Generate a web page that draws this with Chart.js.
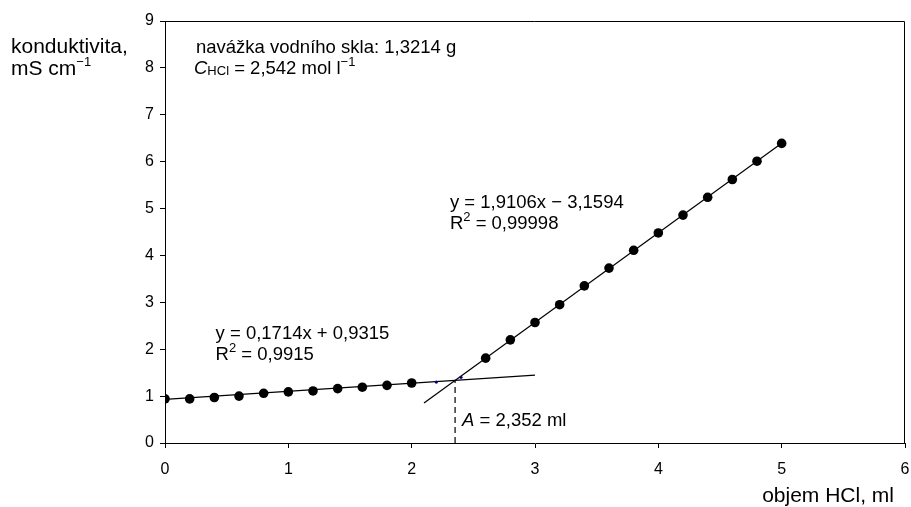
<!DOCTYPE html>
<html>
<head>
<meta charset="utf-8">
<script src="https://cdn.jsdelivr.net/npm/chart.js@4/dist/chart.umd.min.js"></script>
<style>
  html, body { margin: 0; padding: 0; background: #fff; }
  #wrap { width: 911px; height: 507px; }
</style>
</head>
<body>
<div id="wrap"><canvas id="c" width="911" height="507"></canvas></div>
<script>
// ---- data ----
const volumeLow = [0, 0.2, 0.4, 0.6, 0.8, 1.0, 1.2, 1.4, 1.6, 1.8, 2.0];
const condLow   = [0.94, 0.94, 0.97, 1.00, 1.06, 1.09, 1.11, 1.16, 1.19, 1.23, 1.28];
const volumeMid = [2.2, 2.4];
const condMid   = [1.30, 1.40];
const volumeHigh = [2.6, 2.8, 3.0, 3.2, 3.4, 3.6, 3.8, 4.0, 4.2, 4.4, 4.6, 4.8, 5.0];
const condHigh   = [1.81, 2.20, 2.57, 2.95, 3.35, 3.73, 4.11, 4.48, 4.86, 5.24, 5.62, 6.01, 6.39];
// regression lines (slope, intercept) and their drawn x-range
const fitLow  = { slope: 0.1714, intercept: 0.9315, from: 0, to: 3 };
const fitHigh = { slope: 1.9106, intercept: -3.1594, from: 2.1, to: 5 };
const equivalence = 2.352;
const xTicks = [0, 1, 2, 3, 4, 5, 6];
const yTicks = [0, 1, 2, 3, 4, 5, 6, 7, 8, 9];

const FONT = '"Liberation Sans", Arial, sans-serif';
const pts = (xs, ys) => xs.map((x, i) => ({ x: x, y: ys[i] }));
const lineOf = f => [
  { x: f.from, y: f.slope * f.from + f.intercept },
  { x: f.to,   y: f.slope * f.to + f.intercept }
];
const yCross = fitLow.slope * equivalence + fitLow.intercept;

function drawRich(ctx, x, y, parts, base) {
  let cx = x;
  for (const p of parts) {
    const size = p.size || base;
    ctx.font = (p.italic ? 'italic ' : '') + size + 'px ' + FONT;
    ctx.fillText(p.t, cx, y + (p.dy || 0));
    cx += ctx.measureText(p.t).width;
  }
}

const textPlugin = {
  id: 'texts',
  afterDraw(chart) {
    const ctx = chart.ctx;
    const a = chart.chartArea;
    const xs = chart.scales.x, ys = chart.scales.y;
    ctx.save();
    // frame top & right
    ctx.strokeStyle = '#000';
    ctx.lineWidth = 1;
    ctx.beginPath();
    ctx.moveTo(a.left, a.top + 0.5);
    ctx.lineTo(a.right - 0.5, a.top + 0.5);
    ctx.lineTo(a.right - 0.5, a.bottom);
    ctx.stroke();

    ctx.fillStyle = '#000';
    ctx.textBaseline = 'alphabetic';
    ctx.textAlign = 'left';
    const T = 21, E = 18.5, S = 13;
    // y axis title
    drawRich(ctx, 11, 53, [{ t: 'konduktivita,' }], T);
    drawRich(ctx, 11, 75, [{ t: 'mS cm' }, { t: '\u22121', size: S, dy: -9 }], T);
    // x axis title
    ctx.font = T + 'px ' + FONT;
    ctx.textAlign = 'right';
    ctx.fillText('objem HCl, ml', 894, 502);
    ctx.textAlign = 'left';
    // info box
    drawRich(ctx, 196, 53, [{ t: 'navážka vodního skla: 1,3214 g' }], E);
    drawRich(ctx, 194, 74, [
      { t: 'C', italic: true }, { t: 'HCl', size: S, dy: 1 },
      { t: ' = 2,542 mol l' }, { t: '\u22121', size: S, dy: -8 }
    ], E);
    // equations
    const px = v => xs.getPixelForValue(v), py = v => ys.getPixelForValue(v);
    drawRich(ctx, px(0.41), py(2.22), [{ t: 'y = 0,1714x + 0,9315' }], E);
    drawRich(ctx, px(0.41), py(1.78), [{ t: 'R' }, { t: '2', size: S, dy: -8 }, { t: ' = 0,9915' }], E);
    drawRich(ctx, px(2.31), py(5.01), [{ t: 'y = 1,9106x \u2212 3,1594' }], E);
    drawRich(ctx, px(2.31), py(4.57), [{ t: 'R' }, { t: '2', size: S, dy: -8 }, { t: ' = 0,99998' }], E);
    drawRich(ctx, px(equivalence) + 7, py(0.36), [{ t: 'A', italic: true }, { t: ' = 2,352 ml' }], E);
    ctx.restore();
  }
};

new Chart(document.getElementById('c'), {
  type: 'scatter',
  data: {
    datasets: [
      { data: lineOf(fitLow), showLine: true, borderColor: '#000', borderWidth: 1.2, pointRadius: 0, order: 3 },
      { data: lineOf(fitHigh), showLine: true, borderColor: '#000', borderWidth: 1.2, pointRadius: 0, order: 3 },
      { data: [{ x: equivalence, y: 0 }, { x: equivalence, y: yCross }], showLine: true, borderColor: '#000',
        borderWidth: 1.2, borderDash: [6, 4], pointRadius: 0, order: 3 },
      { data: pts(volumeLow, condLow).concat(pts(volumeHigh, condHigh)), backgroundColor: '#000', borderColor: '#000',
        pointRadius: 4.8, borderWidth: 0, order: 1 },
      { data: pts(volumeMid, condMid), backgroundColor: '#000080', borderColor: '#000080',
        pointRadius: 1.6, borderWidth: 0, order: 1 }
    ]
  },
  options: {
    responsive: false,
    animation: false,
    events: [],
    layout: { padding: { top: 21, right: 6, left: 0, bottom: 0 } },
    plugins: { legend: { display: false }, tooltip: { enabled: false } },
    scales: {
      x: {
        type: 'linear', min: 0, max: 6,
        afterBuildTicks: s => { s.ticks = xTicks.map(v => ({ value: v })); },
        afterFit: s => { s.height = 64; s.paddingLeft = 0; s.paddingRight = 0; },
        ticks: { color: '#000', font: { size: 16, family: FONT }, padding: 12, maxRotation: 0 },
        grid: { drawOnChartArea: false, drawTicks: true, tickLength: 5, color: '#000' },
        border: { color: '#000', width: 1 }
      },
      y: {
        type: 'linear', min: 0, max: 9,
        afterBuildTicks: s => { s.ticks = yTicks.map(v => ({ value: v })); },
        afterFit: s => { s.width = 165; s.paddingTop = 0; s.paddingBottom = 0; },
        ticks: { color: '#000', font: { size: 16, family: FONT }, padding: 6 },
        grid: { drawOnChartArea: false, drawTicks: true, tickLength: 5, color: '#000' },
        border: { color: '#000', width: 1 }
      }
    }
  },
  plugins: [textPlugin]
});
</script>
</body>
</html>
